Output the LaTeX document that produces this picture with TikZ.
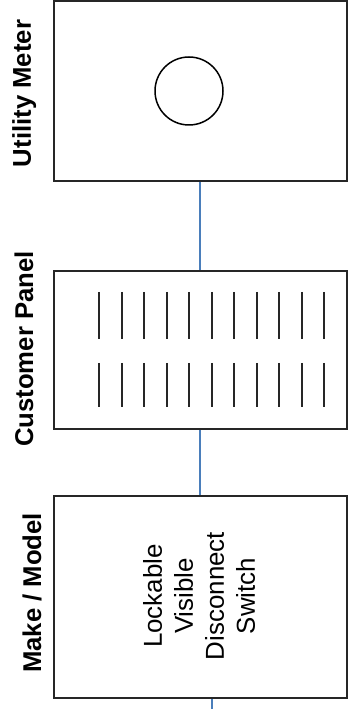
\documentclass[tikz,border=0pt]{standalone}
\usepackage{fontspec}
\setmainfont{Liberation Sans}
\usepackage{xcolor}
\definecolor{wire}{HTML}{4A7EBB}
\definecolor{edge}{HTML}{262626}
\tikzset{box/.style = {draw=edge, line width=2pt, minimum width=293pt, inner sep=0pt}}
\tikzset{title/.style = {rotate=90, anchor=base, font=\fontsize{25.7}{30}\selectfont\bfseries}}
\tikzset{feed/.style = {draw=wire, line width=1.1pt}}
\tikzset{bar/.style = {draw=black!85, line width=2pt}}

\begin{document}
\begin{tikzpicture}[x=1pt, y=1pt]
\useasboundingbox (0,0) rectangle (352,709);
% the three boxes
\node[box, minimum height=180pt] (meter) at (200.5,618) {};
\node[box, minimum height=158pt] (panel) at (200.5,359) {};
\node[box, minimum height=202pt] (switch) at (200.5,112) {};
% labels on the left
\node[title] (meterlbl) at (31,615.5) {Utility Meter};
\node[title] (panellbl) at (33,360) {Customer Panel};
\node[title] (switchlbl) at (41,116) {Make / Model};
% meter dial
\node[circle, draw=black, line width=1.5pt, minimum size=68pt, inner sep=0pt] (dial) at (189,618) {};
% breakers
\foreach \i in {0,...,10}
{
    \draw[bar] (99+22.5*\i,417) -- (99+22.5*\i,370);
    \draw[bar] (99+22.5*\i,346) -- (99+22.5*\i,302);
}
% switch text
\node[rotate=90, align=center, font=\fontsize{25.9}{31}\selectfont] (switchtxt) at (199,113) {Lockable\\Visible\\Disconnect\\Switch};
% wires
\coordinate (out) at (212,0);
\draw[feed] (meter.south -| 200,0) -- (panel.north -| 200,0);
\draw[feed] (panel.south -| 200,0) -- (switch.north -| 200,0);
\draw[feed] (switch.south -| out) -- (out);
\end{tikzpicture}
\end{document}
